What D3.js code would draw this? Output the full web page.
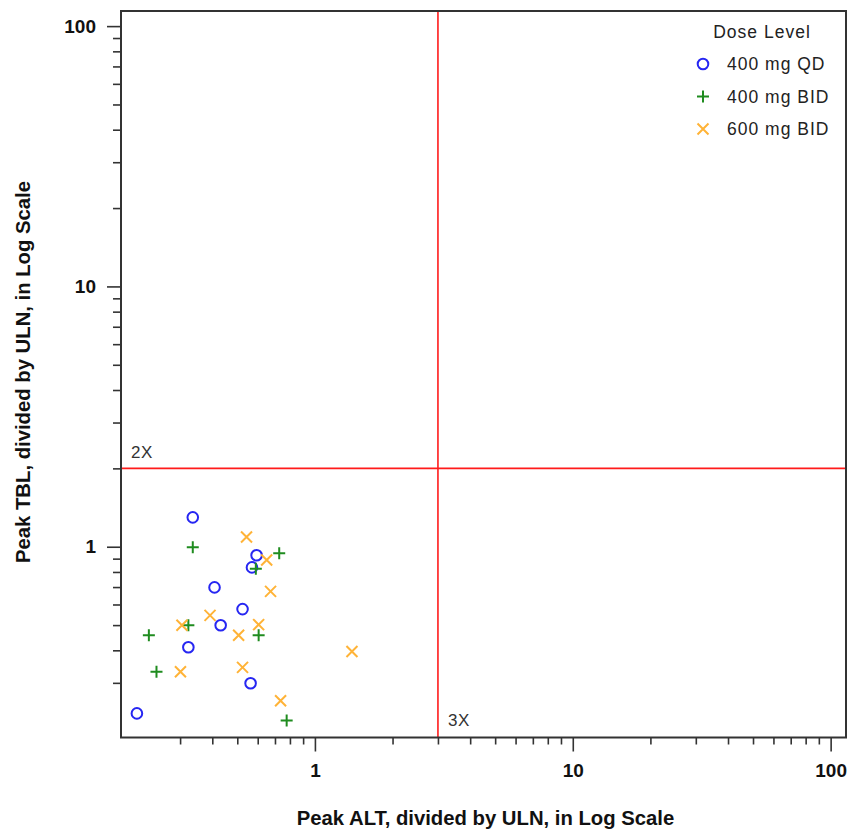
<!DOCTYPE html>
<html>
<head>
<meta charset="utf-8">
<script src="https://cdn.jsdelivr.net/npm/d3@7"></script>
<style>
  body { margin: 0; background: #fff; }
  svg { display: block; }
  .tick text { font-family: "Liberation Sans", Arial, sans-serif; font-weight: bold; font-size: 19px; fill: #111; }
</style>
</head>
<body>
<svg id="chart" width="850" height="830"></svg>
<script>
// Dose groups and their peak values (fold of ULN)
var doseLevels = ['400 mg QD', '400 mg BID', '600 mg BID'];

var qdAlt = [0.336, 0.594, 0.570, 0.408, 0.524, 0.431, 0.323, 0.563, 0.204];
var qdTbl = [1.297, 0.927, 0.833, 0.698, 0.576, 0.499, 0.411, 0.299, 0.229];

var bidAlt = [0.336, 0.727, 0.590, 0.323, 0.227, 0.605, 0.243, 0.777];
var bidTbl = [0.995, 0.943, 0.823, 0.499, 0.457, 0.457, 0.331, 0.215];

var hiAlt = [0.543, 0.650, 0.673, 0.392, 0.305, 0.605, 0.506, 1.392, 0.524, 0.301, 0.736];
var hiTbl = [1.090, 0.889, 0.674, 0.545, 0.499, 0.502, 0.457, 0.396, 0.344, 0.331, 0.256];

// axis ticks
var majorTicks = [1, 10, 100];
var minorTicks = [0.3, 0.4, 0.5, 0.6, 0.7, 0.8, 0.9, 2, 3, 4, 5, 6, 7, 8, 9,
                  20, 30, 40, 50, 60, 70, 80, 90];
var xDomain = [0.177, 114.7];
var yDomain = [0.185, 114.3];

// reference lines
var altLimit = 3, tblLimit = 2;

var colors = ['#2626f2', '#1f8c1f', '#ffb337'];

var svg = d3.select('#chart');
var padding = {t: 11, r: 4, b: 92.5, l: 121};
var svgWidth = +svg.attr('width'), svgHeight = +svg.attr('height');
var chartWidth = svgWidth - padding.l - padding.r;
var chartHeight = svgHeight - padding.t - padding.b;

var chartG = svg.append('g')
    .attr('transform', 'translate(' + [padding.l, padding.t] + ')');

var xScale = d3.scaleLog().domain(xDomain).range([0, chartWidth]);
var yScale = d3.scaleLog().domain(yDomain).range([chartHeight, 0]);

// axes: long major ticks, short minor ticks
function styleAxis(g) {
    g.select('.domain').remove();
    g.selectAll('.tick line').attr('stroke', '#333').attr('stroke-width', 1.6);
}

chartG.append('g')
    .attr('transform', 'translate(0,' + chartHeight + ')')
    .call(d3.axisBottom(xScale).tickValues(minorTicks).tickSize(7).tickFormat(''))
    .call(styleAxis);
chartG.append('g')
    .attr('transform', 'translate(0,' + chartHeight + ')')
    .call(d3.axisBottom(xScale).tickValues(majorTicks).tickSize(14).tickPadding(12)
        .tickFormat(d3.format('d')))
    .call(styleAxis);

chartG.append('g')
    .call(d3.axisLeft(yScale).tickValues(minorTicks).tickSize(8).tickFormat(''))
    .call(styleAxis);
chartG.append('g')
    .call(d3.axisLeft(yScale).tickValues(majorTicks).tickSize(14).tickPadding(11)
        .tickFormat(d3.format('d')))
    .call(styleAxis);

// reference lines
chartG.append('line')
    .attr('x1', xScale(altLimit)).attr('x2', xScale(altLimit))
    .attr('y1', 0).attr('y2', chartHeight)
    .attr('stroke', '#ff1a1a').attr('stroke-width', 1.6);
chartG.append('line')
    .attr('x1', 0).attr('x2', chartWidth)
    .attr('y1', yScale(tblLimit)).attr('y2', yScale(tblLimit))
    .attr('stroke', '#ff1a1a').attr('stroke-width', 1.6);

var refFont = '"Liberation Sans", Arial, sans-serif';
chartG.append('text')
    .attr('x', 10).attr('y', yScale(tblLimit) - 16)
    .attr('dy', '0.35em')
    .style('font-family', refFont).style('font-size', '17px').style('letter-spacing', '0.6px')
    .attr('fill', '#333').text(tblLimit + 'X');
chartG.append('text')
    .attr('x', xScale(altLimit) + 10).attr('y', chartHeight - 17)
    .attr('dy', '0.35em')
    .style('font-family', refFont).style('font-size', '17px').style('letter-spacing', '0.6px')
    .attr('fill', '#333').text(altLimit + 'X');

// marker shapes
function markerPath(kind) {
    if (kind === 1) return 'M-6,0H6M0,-6V6';
    if (kind === 2) return 'M-5.5,-5.5L5.5,5.5M-5.5,5.5L5.5,-5.5';
    return null;
}

function drawMarkers(g, kind) {
    if (kind === 0) {
        g.append('circle').attr('r', 5.3)
            .attr('fill', 'none').attr('stroke', colors[0]).attr('stroke-width', 2);
    } else {
        g.append('path').attr('d', markerPath(kind))
            .attr('fill', 'none').attr('stroke', colors[kind]).attr('stroke-width', 2);
    }
}

var groups = [
    {alt: qdAlt, tbl: qdTbl},
    {alt: bidAlt, tbl: bidTbl},
    {alt: hiAlt, tbl: hiTbl}
];

groups.forEach(function(grp, k) {
    var pts = grp.alt.map(function(a, i) { return {alt: a, tbl: grp.tbl[i]}; });
    chartG.selectAll('.pt' + k)
        .data(pts)
        .enter().append('g')
        .attr('class', 'pt' + k)
        .attr('transform', function(d) {
            return 'translate(' + [xScale(d.alt), yScale(d.tbl)] + ')';
        })
        .each(function() { drawMarkers(d3.select(this), k); });
});

// frame
chartG.append('rect')
    .attr('width', chartWidth).attr('height', chartHeight)
    .attr('fill', 'none').attr('stroke', '#333').attr('stroke-width', 2);

// legend
var legendG = chartG.append('g')
    .attr('transform', 'translate(' + [chartWidth - 143, 0] + ')');
legendG.append('text')
    .attr('x', 59).attr('y', 21).attr('dy', '0.35em')
    .attr('text-anchor', 'middle')
    .style('font-family', refFont).style('font-size', '17.5px').style('letter-spacing', '1px')
    .attr('fill', '#222').text('Dose Level');

var rows = legendG.selectAll('.leg')
    .data(doseLevels)
    .enter().append('g')
    .attr('class', 'leg')
    .attr('transform', function(d, i) { return 'translate(' + [0, 53 + i * 32.5] + ')'; });
rows.each(function(d, i) { drawMarkers(d3.select(this), i); });
rows.append('text')
    .attr('x', 24).attr('dy', '0.35em')
    .style('font-family', refFont).style('font-size', '17.5px').style('letter-spacing', '1px')
    .attr('fill', '#222')
    .text(function(d) { return d; });

// axis titles
svg.append('text')
    .attr('x', padding.l + chartWidth / 2 + 2).attr('y', 818).attr('dy', '0.35em')
    .attr('text-anchor', 'middle')
    .style('font-family', refFont).style('font-weight', 'bold').style('font-size', '20.3px')
    .attr('fill', '#111')
    .text('Peak ALT, divided by ULN, in Log Scale');
svg.append('text')
    .attr('transform', 'translate(23,372) rotate(-90)')
    .attr('dy', '0.35em')
    .attr('text-anchor', 'middle')
    .style('font-family', refFont).style('font-weight', 'bold').style('font-size', '20.3px')
    .attr('fill', '#111')
    .text('Peak TBL, divided by ULN, in Log Scale');
</script>
</body>
</html>
